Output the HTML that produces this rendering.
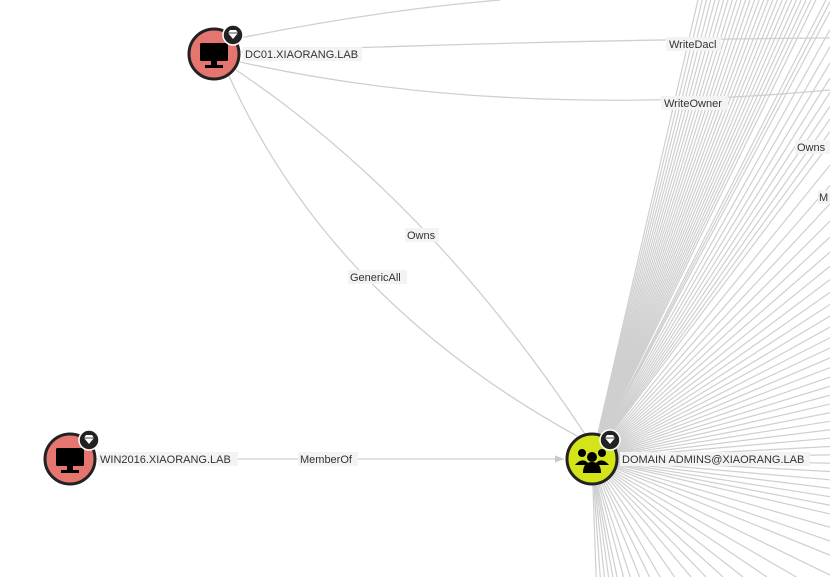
<!DOCTYPE html>
<html><head><meta charset="utf-8"><style>
html,body{margin:0;padding:0;background:#fff;width:830px;height:577px;overflow:hidden;}
svg{display:block;font-family:"Liberation Sans",sans-serif;overflow:hidden;}
.lbl{font-size:11px;fill:#333;}
</style></head><body>
<svg id="g" width="830" height="577" viewBox="0 0 830 577">
<defs>
<clipPath id="frame"><rect x="0" y="0" width="830" height="577"/></clipPath>
<marker id="arr" viewBox="0 0 10 10" refX="10" refY="5" markerWidth="7" markerHeight="7" orient="auto"><path d="M0,1 L10,5 L0,9 z" fill="#c8c8c8"/></marker>
<g id="diamond"><path d="M-5,-2 L-3,-5 L3,-5 L5,-2 L0,4 z" fill="#fff"/><path d="M-5,-2 L5,-2" stroke="#222" stroke-width="0.8"/></g>
</defs>
<g id="fan" clip-path="url(#frame)"></g>
<g fill="none" stroke="#cfcfcf" stroke-width="1.3">
<path d="M240,38 Q380,10 500,0" marker-start="url(#arr)"/>
<path d="M242,52 Q540,40 830,38"/>
<path d="M240,62 Q500,120 830,90"/>
<path d="M236,70 Q430,200 585,434" marker-start="url(#arr)"/>
<path d="M229,76 Q330,300 577,436" marker-start="url(#arr)"/>
<path d="M97,459 L564,459" marker-end="url(#arr)"/>
</g>
<g>
<rect x="666" y="37" width="55" height="14" fill="#f3f3f3"/><text class="lbl" x="669" y="48">WriteDacl</text>
<rect x="661" y="96" width="67" height="14" fill="#f3f3f3"/><text class="lbl" x="664" y="107">WriteOwner</text>
<rect x="795" y="140" width="35" height="14" fill="#f3f3f3"/><text class="lbl" x="797" y="151">Owns</text>
<rect x="818" y="190" width="12" height="14" fill="#f3f3f3"/><text class="lbl" x="819" y="201">M</text>
<rect x="405" y="228" width="34" height="14" fill="#f3f3f3"/><text class="lbl" x="407" y="239">Owns</text>
<rect x="348" y="270" width="59" height="14" fill="#f3f3f3"/><text class="lbl" x="350" y="281">GenericAll</text>
<rect x="298" y="452" width="60" height="14" fill="#f3f3f3"/><text class="lbl" x="300" y="463">MemberOf</text>
</g>
<g transform="translate(214,54)">
<circle r="25" fill="#e5756f" stroke="#222" stroke-width="3"/>
<rect x="-14" y="-11" width="28" height="18" rx="1.5" fill="#000"/><rect x="-3" y="7" width="6" height="5" fill="#000"/><rect x="-9" y="11" width="18" height="3" fill="#000"/>
<circle cx="19" cy="-19" r="10" fill="#222" stroke="#fff" stroke-width="1.5"/><use href="#diamond" x="19" y="-19"/>
<rect x="29" y="-7" width="119" height="14" fill="#f3f3f3"/><text class="lbl" x="31" y="4">DC01.XIAORANG.LAB</text>
</g>
<g transform="translate(70,459)">
<circle r="25" fill="#e5756f" stroke="#222" stroke-width="3"/>
<rect x="-14" y="-11" width="28" height="18" rx="1.5" fill="#000"/><rect x="-3" y="7" width="6" height="5" fill="#000"/><rect x="-9" y="11" width="18" height="3" fill="#000"/>
<circle cx="19" cy="-19" r="10" fill="#222" stroke="#fff" stroke-width="1.5"/><use href="#diamond" x="19" y="-19"/>
<rect x="28" y="-7" width="140" height="14" fill="#f3f3f3"/><text class="lbl" x="30" y="4">WIN2016.XIAORANG.LAB</text>
</g>
<g transform="translate(592,459)">
<circle r="25" fill="#d4e41a" stroke="#222" stroke-width="3"/>
<circle cx="-10" cy="-6" r="4" fill="#000"/><circle cx="10" cy="-6" r="4" fill="#000"/><circle cx="0" cy="-2" r="5" fill="#000"/>
<path d="M-17,6 Q-10,-2 -4,4 L-4,6 z M17,6 Q10,-2 4,4 L4,6 z" fill="#000"/>
<path d="M-9,14 Q-9,3 0,3 Q9,3 9,14 z" fill="#000"/>
<circle cx="18" cy="-19" r="10" fill="#222" stroke="#fff" stroke-width="1.5"/><use href="#diamond" x="18" y="-19"/>
<rect x="28" y="-7" width="190" height="14" fill="#f3f3f3"/><text class="lbl" x="30" y="4">DOMAIN ADMINS@XIAORANG.LAB</text>
</g>
</svg>
<script>
var fanAngles=[-77,-76.5,-76,-75.5,-75,-74.5,-74,-73.5,-73,-72.5,-72,-71.5,-71,-70.5,-70,-69.5,-69,-68.5,-68,-67.5,-67,-66.5,-66,-65.5,-65,-64.5,-64,-63,-62.5,-62,-61,-60,-59,-58,-57,-56,-55,-54,-53,-51,-49,-47,-45,-43,-41,-39,-37,-35,-33,-31,-29,-27,-25,-23,-21,-19,-17,-15,-13,-11,-9,-7,-5,-3,-1,1,3,5,7,9,11,13,16,19,22,26,30,34,38,42,46,50,55,60,64,68,72,75,78,80,82,84,86,88];
var cx=592, cy=459, W=830, H=577;
var fan=document.getElementById('fan');
fanAngles.forEach(function(a,i){
  var r=a*Math.PI/180, dx=Math.cos(r), dy=Math.sin(r);
  var t=1e9;
  if(dx>1e-6) t=Math.min(t,(W-cx)/dx);
  if(dx<-1e-6) t=Math.min(t,(0-cx)/dx);
  if(dy>1e-6) t=Math.min(t,(H-cy)/dy);
  if(dy<-1e-6) t=Math.min(t,(0-cy)/dy);
  var l=document.createElementNS('http://www.w3.org/2000/svg','line');
  
  
  l.setAttribute('x1',cx);l.setAttribute('y1',cy);
  l.setAttribute('x2',cx+t*dx);l.setAttribute('y2',cy+t*dy);
  l.setAttribute('stroke','#cfcfcf');l.setAttribute('stroke-width','1.2');
  fan.appendChild(l);
});
</script>
</body></html>
